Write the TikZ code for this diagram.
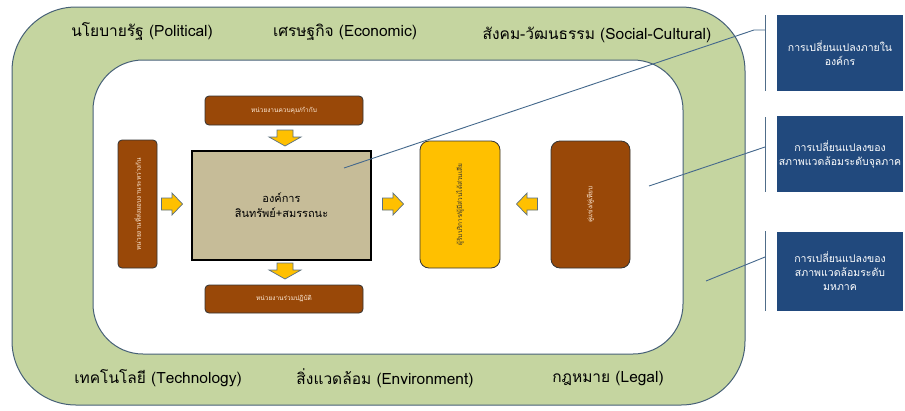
\documentclass[tikz,border=0pt]{standalone}
\usepackage{fontspec}
\setmainfont{Liberation Sans}
\newfontfamily\thai[Script=Thai]{Loma}
\definecolor{ringgreen}{RGB}{197,213,160}
\definecolor{ringedge}{RGB}{70,96,118}
\definecolor{unitbrown}{RGB}{153,72,8}
\definecolor{orgtan}{RGB}{198,188,152}
\definecolor{custyellow}{RGB}{255,192,0}
\definecolor{notenavy}{RGB}{33,73,125}
\definecolor{leadblue}{RGB}{68,104,140}
\tikzset{
  ring/.style={draw=ringedge, line width=1pt},
  unit/.style={draw=black!80, fill=unitbrown, rounded corners=4pt, line width=0.8pt,
    text=white!85!orange, font=\thai\fontsize{6.5}{8}\selectfont, align=center, inner sep=0pt},
  sidetext/.style={rotate=90, text=white!85!orange, font=\thai\fontsize{6.5}{8}\selectfont},
  flowstyle/.style={draw=ringedge!90, fill=custyellow, line width=0.7pt, line join=miter},
  % block arrow pointing along +x, 21 long, head 22 high, shaft 12 high
  blockarrow/.pic={
    \path[flowstyle] (-10.5,-6) -- (0,-6) -- (0,-11) -- (10.5,0) -- (0,11) -- (0,6)
      -- (-10.5,6) -- cycle;
  },
  % wide, short block arrow pointing along +y (down on the page)
  droparrow/.pic={
    \path[flowstyle] (-8,-8) -- (8,-8) -- (8,-1) -- (16,-1) -- (0,8) -- (-16,-1)
      -- (-8,-1) -- cycle;
  },
  factor/.style={font=\thai\fontsize{15.5}{17}\selectfont, text=black},
  note/.style={fill=notenavy, text=white, font=\thai\fontsize{10.5}{14}\selectfont,
    align=center, inner sep=0pt},
  bracket/.style={draw=leadblue!80!gray, line width=0.8pt},
  lead/.style={draw=leadblue, line width=0.9pt}
}
\begin{document}
\begin{tikzpicture}[x=1pt,y=-1pt]
\useasboundingbox (0,0) rectangle (905,410);
% environment ring
\fill[ringgreen, ring] (12,7) [rounded corners=64pt] rectangle (745,405);
\fill[white, ring] (93,60) [rounded corners=50pt] rectangle (683,354);
% external factors
\node[factor] (pol) at (142,32) {นโยบายรัฐ (Political)};
\node[factor] (eco) at (345,32) {เศรษฐกิจ (Economic)};
\node[factor] (soc) at (597,35) {สังคม-วัฒนธรรม (Social-Cultural)};
\node[factor] (tec) at (158,378) {เทคโนโลยี (Technology)};
\node[factor] (env) at (385,378) {สิ่งแวดล้อม (Environment)};
\node[factor] (leg) at (608,378) {กฎหมาย (Legal)};
% organisation and its stakeholders
\node[draw=black, line width=1.3pt, fill=orgtan, minimum width=179pt, minimum height=109pt,
  font=\thai\fontsize{11}{15}\selectfont, align=center] (org) at (281.5,205.5)
  {องค์การ\\สินทรัพย์+สมรรถนะ};
\node[unit, minimum width=158pt, minimum height=29pt] (reg) at (284,110.5) {หน่วยงานควบคุม/กำกับ};
\node[unit, minimum width=158pt, minimum height=28pt] (part) at (284,299) {หน่วยงานร่วมปฏิบัติ};
\node[unit, minimum width=39pt, minimum height=128pt] (peer) at (137.5,204) {};
\node[sidetext] (peertext) at (peer.center) {หน่วยงานที่ส่งมอบงานระหว่างกัน};
\node[unit, fill=custyellow, rounded corners=9pt, minimum width=80pt, minimum height=127pt] (cust) at (460,204.5) {};
\node[sidetext, text=black!80] (custtext) at (cust.center) {ผู้รับบริการ/ผู้มีส่วนได้ส่วนเสีย};
\node[unit, rounded corners=9pt, minimum width=79pt, minimum height=127pt] (comp) at (590.5,204.5) {};
\node[sidetext] (comptext) at (comp.center) {คู่แข่ง/คู่เทียบ};
% flow arrows
\pic (a1) at (285,138) {droparrow};
\pic (a2) at (285,271) {droparrow};
\pic (a3) at (172,204) {blockarrow};
\pic (a4) at (393,204) {blockarrow};
\pic[rotate=180] (a5) at (527,204) {blockarrow};
% change notes on the right
\node[note, minimum width=126pt, minimum height=76pt] (n1) at (840,53) {การเปลี่ยนแปลงภายใน\\องค์กร};
\node[note, minimum width=126pt, minimum height=76pt] (n2) at (840,154) {การเปลี่ยนแปลงของ\\สภาพแวดล้อมระดับจุลภาค};
\node[note, minimum width=126pt, minimum height=79pt] (n3) at (840,271.5) {การเปลี่ยนแปลงของ\\สภาพแวดล้อมระดับ\\มหภาค};
% brackets and leader lines
\coordinate (b1t) at (765,15); \coordinate (b1b) at (765,91);
\coordinate (b2t) at (765,117); \coordinate (b2b) at (765,192);
\coordinate (b3t) at (765,231); \coordinate (b3b) at (765,311);
\draw[bracket] (b1t) -- (b1b);
\draw[bracket] (b2t) -- (b2b);
\draw[bracket] (b3t) -- (b3b);
\coordinate (l1s) at (765,30); \coordinate (l1k) at (754,30); \coordinate (l1e) at (344,168);
\coordinate (l2s) at (765,147); \coordinate (l2e) at (649,186);
\coordinate (l3s) at (765,257); \coordinate (l3e) at (706,281);
\draw[lead] (l1s) -- (l1k) -- (l1e);
\draw[lead] (l2s) -- (l2e);
\draw[lead] (l3s) -- (l3e);
\end{tikzpicture}
\end{document}
